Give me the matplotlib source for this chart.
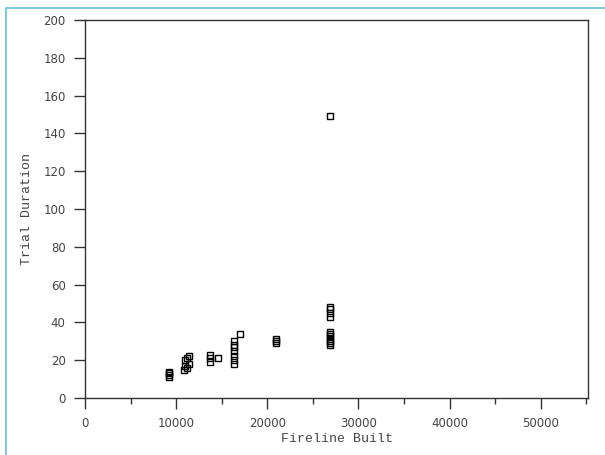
import matplotlib
matplotlib.use("Agg")
from matplotlib import pyplot as plt
from matplotlib.patches import Rectangle
from matplotlib.ticker import MultipleLocator

# values
fireline = [9200, 9200, 9200, 9200,
            10900, 11000, 11000, 11200, 11200, 11400, 11400,
            13700, 13700, 13700, 14600,
            16400, 16400, 16400, 16400, 16400, 16400, 16400, 17000,
            21000, 21000, 21000,
            26900, 26900, 26900, 26900,
            26900, 26900, 26900, 26900, 26900, 26900, 26900,
            26900]
duration = [11, 12, 13, 14,
            15, 17, 20, 16, 21, 18, 22,
            19, 21, 23, 21,
            18, 20, 22, 25, 27, 28, 30, 34,
            29, 30, 31,
            43, 45, 47, 48,
            28, 29, 30, 31, 33, 34, 35,
            149]

fig = plt.figure(figsize=(6.05, 4.55), dpi=100)
ax = fig.add_axes([0.1405, 0.1253, 0.8315, 0.8307])

# light blue frame around the chart (only left and top visible)
fig.patches.append(Rectangle((6 / 605, -0.1), 1.2, (455 - 8) / 455 + 0.1,
                             transform=fig.transFigure, fill=False,
                             edgecolor="#7ec8e8", linewidth=1.4))

ax.plot(fireline, duration, linestyle="none", marker="s", markersize=5,
        markerfacecolor="none", markeredgecolor="black", markeredgewidth=1.0)

ax.set_xlim(0, 55200)
ax.set_ylim(0, 200)
ax.xaxis.set_major_locator(MultipleLocator(10000))
ax.xaxis.set_minor_locator(MultipleLocator(5000))
ax.yaxis.set_major_locator(MultipleLocator(20))

for s in ax.spines.values():
    s.set_color("#333333")
    s.set_linewidth(1.0)
ax.tick_params(which="major", direction="out", length=8, width=1,
               color="#333333", labelsize=8.5, labelcolor="#444444", pad=6)
ax.tick_params(which="minor", direction="out", length=4, width=1, color="#333333")

mono = {"family": "Liberation Mono", "size": 9.5, "color": "#444444"}
ax.set_xlabel("Fireline Built", fontdict=mono, labelpad=2)
ax.set_ylabel("Trial Duration", fontdict=mono, labelpad=7)

fig.savefig("out.png", dpi=100)
